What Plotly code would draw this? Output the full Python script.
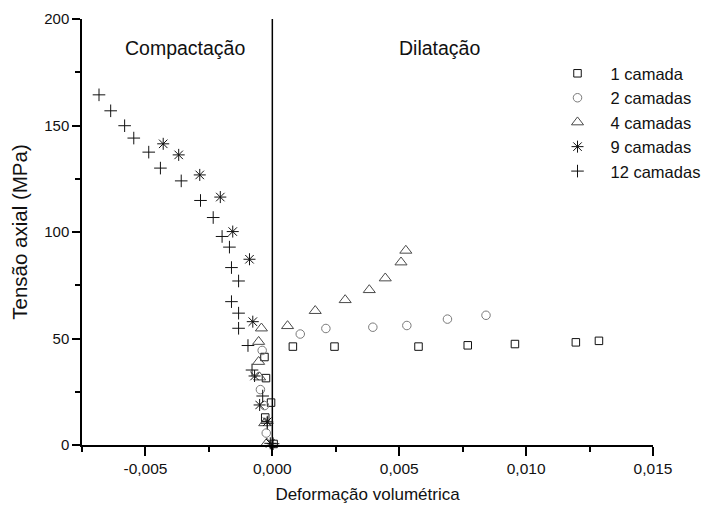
import plotly.graph_objects as go

# ---- data ----
x_1 = [-0.00031, -0.00025, -0.00005, -0.00028, 0.00005, 0.00081, 0.00245, 0.00576, 0.0077, 0.00956, 0.01196, 0.01287]
y_1 = [41.3, 31.4, 19.9, 12.9, 0.5, 46.2, 46.2, 46.2, 46.8, 47.4, 48.2, 48.9]

x_2 = [-0.0004, -0.00047, -0.00031, -0.00024, 0.0011, 0.00211, 0.00396, 0.0053, 0.0069, 0.00842]
y_2 = [44.4, 26.0, 18.5, 5.6, 52.1, 54.7, 55.3, 56.1, 59.1, 60.9]

x_4 = [-0.00043, -0.00054, -0.00054, -0.0005, -0.0003, -0.00022, 0.0006, 0.00169, 0.00287, 0.00382, 0.00445, 0.00507, 0.00526]
y_4 = [54.8, 48.5, 39.1, 31.8, 10.3, 0.8, 55.9, 63.0, 68.1, 72.8, 78.3, 85.8, 91.3]

x_9 = [-0.0043, -0.00369, -0.00286, -0.00205, -0.00156, -0.0009, -0.00077, -0.0007, -0.0005, -0.0002, -0.00008]
y_9 = [141.4, 136.2, 126.8, 116.4, 100.2, 87.2, 57.9, 32.4, 18.8, 10.9, 0.8]

x_12 = [-0.00683, -0.00637, -0.00582, -0.00546, -0.00487, -0.00441, -0.00359, -0.00283, -0.00233, -0.00198,
        -0.00169, -0.00161, -0.00133, -0.00161, -0.00133, -0.00133, -0.00096, -0.0008, -0.00038, -0.0002, 0.00003]
y_12 = [164.4, 156.9, 149.9, 144.1, 137.5, 130.0, 124.0, 114.8, 106.8, 97.9,
        92.9, 83.3, 77.0, 67.3, 61.9, 54.8, 46.7, 35.2, 23.0, 10.2, 0.6]

series_names = ["1 camada", "2 camadas", "4 camadas", "9 camadas", "12 camadas"]
x_tickvals = [-0.005, 0.0, 0.005, 0.010, 0.015]
x_ticktext = ["-0,005", "0,000", "0,005", "0,010", "0,015"]
y_tickvals = [0, 50, 100, 150, 200]
y_ticktext = ["0", "50", "100", "150", "200"]
region_labels = ["Compactação", "Dilatação"]
region_x = [-0.00343, 0.00657]
region_y = [186.5, 186.5]

FONT = "Liberation Sans, Arial, sans-serif"

styles = [
    dict(symbol="square-open", size=7.5, color="#111111"),
    dict(symbol="circle-open", size=8.5, color="#7a7a7a"),
    dict(symbol="triangle-up-open", size=10.5, color="#4a4a4a"),
    dict(symbol="asterisk-open", size=10, color="#111111"),
    dict(symbol="cross-thin-open", size=9, color="#111111"),
]
xs = [x_1, x_2, x_4, x_9, x_12]
ys = [y_1, y_2, y_4, y_9, y_12]

fig = go.Figure()
for name, xv, yv, st in zip(series_names, xs, ys, styles):
    fig.add_trace(go.Scatter(
        x=xv, y=yv, mode="markers", name=name, cliponaxis=False,
        marker=dict(symbol=st["symbol"], size=st["size"], color=st["color"],
                    line=dict(color=st["color"], width=1.0)),
    ))

fig.add_vline(x=0, line=dict(color="black", width=1.5), layer="below")

for txt, xv, yv in zip(region_labels, region_x, region_y):
    fig.add_annotation(x=xv, y=yv, text=txt, showarrow=False,
                       font=dict(family=FONT, size=19.5, color="#111111"))

fig.update_layout(
    width=721, height=510,
    margin=dict(l=82, r=68, t=19, b=65, autoexpand=False),
    paper_bgcolor="white", plot_bgcolor="white",
    font=dict(family=FONT, size=15, color="#111111"),
    showlegend=True,
    legend=dict(x=0.810, y=0.913, xanchor="left", yanchor="top",
                font=dict(family=FONT, size=16.5, color="#111111"),
                itemwidth=56, bgcolor="rgba(0,0,0,0)", tracegroupgap=0),
)
fig.update_xaxes(
    range=[-0.0075, 0.015], showgrid=False, zeroline=False, automargin=False,
    showline=True, linecolor="black", linewidth=1.5,
    ticks="outside", ticklen=9, tickwidth=1.5, tickcolor="black",
    tickmode="array", tickvals=x_tickvals, ticktext=x_ticktext,
    tickfont=dict(family=FONT, size=15.5),
    minor=dict(ticks="outside", ticklen=5, tickwidth=1.5, tickcolor="black", dtick=0.0025, tick0=0, showgrid=False),
    title=dict(text="Deformação volumétrica", font=dict(family=FONT, size=17), standoff=12),
)
fig.update_yaxes(
    range=[0, 200], showgrid=False, zeroline=False, automargin=False,
    showline=True, linecolor="black", linewidth=1.5,
    ticks="outside", ticklen=8, tickwidth=1.5, tickcolor="black",
    tickmode="array", tickvals=y_tickvals, ticktext=y_ticktext,
    tickfont=dict(family=FONT, size=15),
    minor=dict(ticks="outside", ticklen=5, tickwidth=1.5, tickcolor="black", dtick=25, tick0=0, showgrid=False),
    title=dict(text="Tensão axial (MPa)", font=dict(family=FONT, size=20.5), standoff=11),
)

fig.write_html("out.html")
